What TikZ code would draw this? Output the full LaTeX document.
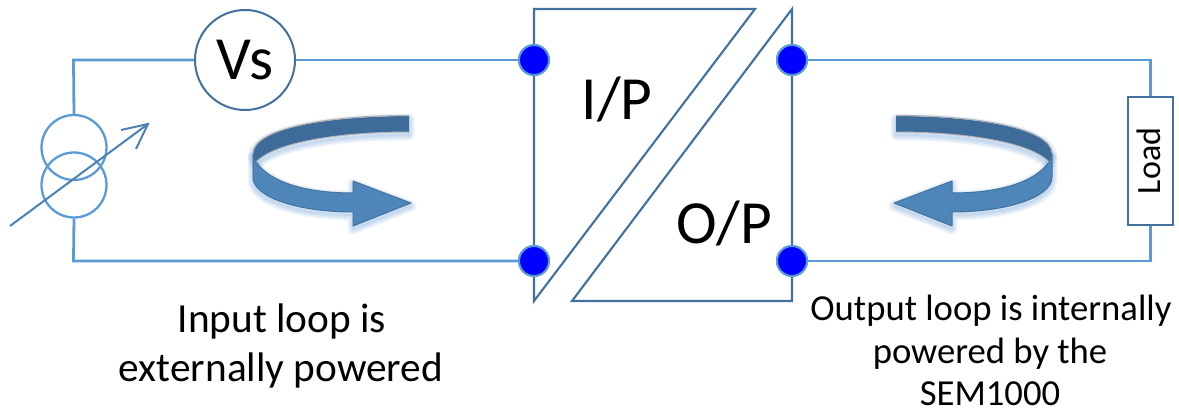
\documentclass[tikz,border=0pt]{standalone}
\usepackage{fontspec}
\setmainfont{Carlito}
\definecolor{wire}{HTML}{5B9BD5}
\definecolor{edge}{HTML}{41719C}
\definecolor{bandtop}{HTML}{3D6C9B}
\definecolor{bandlow}{HTML}{4E86BA}
\definecolor{glow}{HTML}{5B9BD5}
\newcommand{\bandT}{(409,116) .. controls (330,116) and (253,128) .. (253,154) -- (256,162) .. controls (275,142) and (340,132) .. (409,132) -- cycle}
\newcommand{\bandL}{(253,154) -- (253,177) .. controls (253,198) and (300,212) .. (353,212) -- (353,226) -- (411,203) -- (353,181) -- (353,193) .. controls (305,193) and (270,182) .. (256,162) -- cycle}
\newcommand{\loopshape}{%
  \foreach \w in {11,8,5,2}{
    \draw[glow,opacity=.10,line width=\w*.75pt,line join=round,yshift=-2.2pt] \bandT;
    \draw[glow,opacity=.10,line width=\w*.75pt,line join=round,yshift=-2.2pt] \bandL;
  }
  \fill[white] \bandT;
  \fill[white] \bandL;
  \draw[bandlow!85!black,fill=bandlow,line width=.75pt,line join=round] \bandL;
  \fill[bandtop] \bandT;
  \draw[black!30,line width=.9pt] (409,115.5) .. controls (330,115.5) and (253,127.5) .. (252.7,154);
  \draw[black!30,line width=.7pt] (256,162) .. controls (275,142) and (340,132) .. (409,132);
}
\tikzset{
  wireline/.style={wire,line width=2.8*.75pt},
  boxline/.style={edge,line width=2.1*.75pt,line join=miter},
  terminal/.style={circle,fill=blue,draw=wire,line width=2*.75pt,minimum size=30*.75pt,inner sep=0pt},
  coil/.style={circle,draw=wire,line width=2.3*.75pt,minimum size=65*.75pt,inner sep=0pt},
  meter/.style={circle,draw=edge,fill=white,line width=2*.75pt,minimum size=100*.75pt,inner sep=0pt,font=\fontsize{46}{46}\selectfont},
  bigtext/.style={anchor=base,inner sep=0pt,font=\fontsize{46}{46}\selectfont},
  note/.style={anchor=base,inner sep=0pt,font=\fontsize{27.5}{27.5}\selectfont},
  noteleft/.style={anchor=base,inner sep=0pt,font=\fontsize{31}{31}\selectfont},
  loadbox/.style={rectangle,rotate=90,draw=edge,fill=white,line width=2.2*.75pt,minimum width=128*.75pt,minimum height=45*.75pt,inner sep=0pt,font=\fontsize{25.5}{25.5}\selectfont},
  sweep/.style={edge!60!wire,line width=2*.75pt,line join=miter},
}
\begin{document}
\begin{tikzpicture}[x=.75pt,y=-.75pt]
\useasboundingbox[fill=white] (0,0) rectangle (1179,410);
% named parts
\node[coil] (cu) at (74,147.5) {};
\node[coil] (cl) at (74,185) {};
\node[meter] (vs) at (245,60) {};
\coordinate (ct) at (73.5,60);
\coordinate (cb) at (73.5,261);
\coordinate (bx1) at (534,9);
\coordinate (bx2) at (755,9);
\coordinate (bx3) at (534,301);
\coordinate (bx4) at (792,9);
\coordinate (bx5) at (792,301);
\coordinate (bx6) at (572,301);
\coordinate (rt) at (1150.5,60);
\coordinate (rb) at (1150.5,261);
\coordinate (a1) at (10,226);
\coordinate (a2) at (148,124);
\coordinate (a3) at (121,130);
\coordinate (a4) at (136,149);
\node[terminal] (t1) at (534,60) {};
\node[terminal] (t2) at (534,261) {};
\node[terminal] (t3) at (792,60) {};
\node[terminal] (t4) at (792,261) {};
\node[loadbox] (load) at (1150.5,161) {\raisebox{2.2pt}{Load}};
% wires
\draw[wireline] (cu.north) -- (ct) -- (vs.west);
\draw[wireline] (vs.east) -- (t1);
\draw[wireline] (cl.south) -- (cb) -- (t2);
\draw[wireline] (t3) -- (rt) -- (load.east);
\draw[wireline] (t4) -- (rb) -- (load.west);
% source
\draw[sweep] (a1) -- (a2);
\draw[sweep] (a3) -- (a2) -- (a4);
% converter
\draw[boxline] (bx2) -- (bx1) -- (bx3) -- cycle;
\draw[boxline] (bx4) -- (bx5) -- (bx6) -- cycle;
% terminals on top of the box lines
\node[terminal] at (t1) {};
\node[terminal] at (t2) {};
\node[terminal] at (t3) {};
\node[terminal] at (t4) {};
% loop arrows
\begin{scope}
\loopshape
\end{scope}
\begin{scope}[xshift=1305*.75pt,xscale=-1]
\loopshape
\end{scope}
% text
\node at (vs.center) {\fontsize{46}{46}\selectfont Vs};
\node[bigtext] (ip) at (617,119) {I/P};
\node[bigtext] (op) at (724,243) {O/P};
\node[noteleft] (n1) at (282,332.5) {Input loop is};
\node[noteleft] (n2) at (281,381.5) {externally powered};
\node[note] (n3) at (991,320) {Output loop is internally};
\node[note] (n4) at (990,363) {powered by the};
\node[note] (n5) at (990,405.5) {SEM1000};
\end{tikzpicture}
\end{document}
